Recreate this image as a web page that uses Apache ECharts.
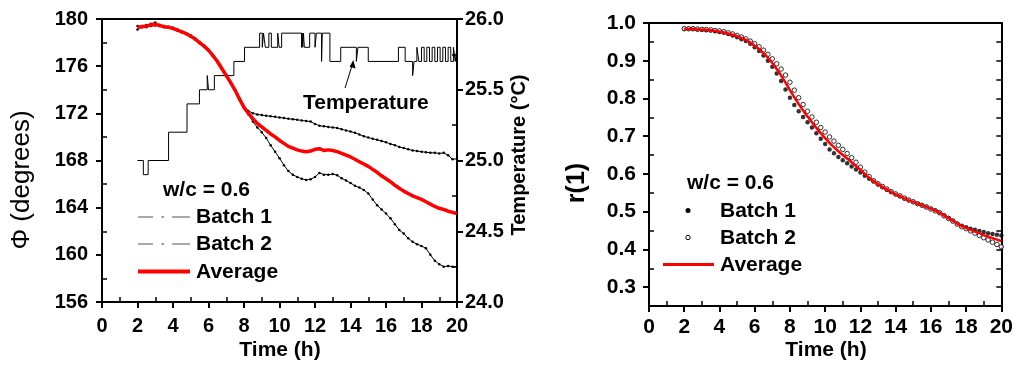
<!DOCTYPE html>
<html><head><meta charset="utf-8">
<script src="https://cdn.jsdelivr.net/npm/echarts@6/dist/echarts.min.js"></script>
<style>html,body{margin:0;padding:0;background:#fff}#c{width:1016px;height:367px}</style>
</head><body><div id="c"></div>
<script>
// ---------- DATA ----------
const times = [2,2.25,2.5,2.75,3,3.25,3.5,3.75,4,4.25,4.5,4.75,5,5.25,5.5,5.75,6,6.25,6.5,6.75,7,7.25,7.5,7.75,8,8.25,8.5,8.75,9,9.25,9.5,9.75,10,10.25,10.5,10.75,11,11.25,11.5,11.75,12,12.25,12.5,12.75,13,13.25,13.5,13.75,14,14.25,14.5,14.75,15,15.25,15.5,15.75,16,16.25,16.5,16.75,17,17.25,17.5,17.75,18,18.25,18.5,18.75,19,19.25,19.5,19.75,20];

const phiBatch1 = [179.1,179.4,179.3,179.6,179.7,179.4,179.4,179.25,179.25,179.0,178.95,178.7,178.6,178.25,178.05,177.65,177.4,176.85,176.45,175.75,175.25,174.55,174.0,173.15,172.55,
  172.2,172.0,171.9,171.85,171.8,171.75,171.7,171.65,171.6,171.55,171.5,171.45,171.4,171.35,171.3,171.1,170.95,170.9,170.85,170.8,170.75,170.65,170.55,170.45,170.35,170.2,170.05,169.95,169.85,169.75,169.65,169.55,169.4,169.3,169.15,169.05,168.95,168.85,168.8,168.75,168.7,168.65,168.65,168.6,168.65,168.45,168.1,168.15];

const phiBatch2 = [179.4,179.3,179.5,179.4,179.45,179.5,179.3,179.35,179.15,179.1,178.85,178.8,178.5,178.35,177.95,177.75,177.3,176.95,176.35,175.85,175.15,174.65,173.9,173.25,172.45,
  171.9,171.3,170.8,170.4,169.9,169.3,168.75,168.2,167.6,167.1,166.8,166.6,166.45,166.35,166.4,166.6,166.95,166.8,166.8,166.85,166.75,166.5,166.3,166.1,165.85,165.7,165.5,165.2,164.7,164.2,163.85,163.5,163.1,162.6,162.1,161.8,161.4,161.1,160.9,160.75,160.55,160.0,159.5,159.2,159.0,159.05,159.0,159.0];

const phiAverage = [179.3,179.35,179.4,179.5,179.55,179.45,179.35,179.3,179.2,179.05,178.9,178.75,178.55,178.3,178.0,177.7,177.35,176.9,176.4,175.8,175.2,174.6,173.95,173.2,172.5,172.0,171.55,171.15,170.85,170.55,170.25,170.0,169.7,169.45,169.2,169.05,168.9,168.8,168.75,168.8,168.95,169.0,168.85,168.9,168.85,168.75,168.6,168.45,168.3,168.1,167.9,167.7,167.5,167.25,167.0,166.7,166.45,166.2,165.9,165.65,165.4,165.2,165.0,164.85,164.7,164.5,164.3,164.1,163.95,163.85,163.7,163.6,163.5];

const tempTime = [2.0,2.33,2.6,3.75,4.79,5.49,5.93,6.0,6.33,7.43,8.03,8.88,9.03,9.1,9.2,9.4,9.54,9.9,9.98,10.12,11.24,11.28,11.31,11.35,11.4,11.7,12.0,12.08,12.37,12.41,12.84,13.45,14.33,14.42,15.0,16.7,17.08,17.5,17.58,17.74,17.85,18.0,18.15,18.3,18.45,18.6,18.75,18.9,19.05,19.2,19.35,19.5,19.65,19.8,19.9,20.0];
const tempValue = [25.0,24.9,25.0,25.2,25.4,25.5,25.6,25.5,25.6,25.7,25.8,25.9,25.8,25.9,25.8,25.9,25.8,25.9,25.8,25.9,25.8,25.9,25.8,25.9,25.8,25.9,25.8,25.9,25.7,25.9,25.7,25.8,25.7,25.8,25.7,25.8,25.7,25.6,25.7,25.8,25.7,25.8,25.7,25.8,25.7,25.8,25.7,25.8,25.7,25.8,25.7,25.8,25.7,25.8,25.7,25.8];

const rBatch1 = [0.984,0.984,0.984,0.983,0.982,0.981,0.980,0.978,0.976,0.974,0.971,0.967,0.962,0.957,0.952,0.945,0.936,0.926,0.914,0.900,0.884,0.866,0.846,0.824,0.802,0.783,0.766,0.751,0.737,0.723,0.708,0.693,0.679,0.665,0.655,0.645,0.636,0.628,0.620,0.612,0.604,0.595,0.587,0.580,0.572,0.565,0.558,0.552,0.546,0.541,0.535,0.530,0.526,0.521,0.517,0.513,0.508,0.503,0.497,0.490,0.483,0.476,0.468,0.463,0.459,0.455,0.452,0.449,0.446,0.443,0.441,0.439,0.437];
const rBatch2 = [0.985,0.985,0.985,0.984,0.983,0.983,0.982,0.980,0.979,0.977,0.974,0.971,0.967,0.963,0.958,0.952,0.945,0.937,0.928,0.917,0.905,0.892,0.878,0.862,0.843,0.822,0.802,0.784,0.766,0.751,0.737,0.723,0.711,0.698,0.687,0.676,0.665,0.654,0.643,0.631,0.618,0.605,0.593,0.582,0.574,0.567,0.560,0.553,0.547,0.542,0.536,0.531,0.526,0.521,0.517,0.512,0.507,0.502,0.497,0.489,0.482,0.475,0.467,0.460,0.455,0.449,0.443,0.437,0.431,0.425,0.419,0.413,0.407];
const rAverage = [0.984,0.984,0.984,0.983,0.982,0.982,0.981,0.979,0.977,0.975,0.972,0.969,0.965,0.960,0.955,0.948,0.940,0.931,0.920,0.908,0.894,0.878,0.861,0.842,0.822,0.803,0.785,0.768,0.752,0.737,0.722,0.708,0.695,0.682,0.671,0.660,0.650,0.641,0.631,0.621,0.611,0.600,0.590,0.581,0.573,0.566,0.559,0.552,0.546,0.541,0.535,0.530,0.526,0.521,0.517,0.512,0.508,0.503,0.497,0.490,0.483,0.476,0.468,0.462,0.457,0.452,0.447,0.443,0.438,0.434,0.430,0.426,0.422];

const xMajorTicks = [0,2,4,6,8,10,12,14,16,18,20];
const xMinorTicks = [1,3,5,7,9,11,13,15,17,19];
const phiMajorTicks = [156,160,164,168,172,176,180];
const phiMinorTicks = [158,162,166,170,174,178];
const tempMajorTicks = [24,24.5,25,25.5,26];
const tempMinorTicks = [24.25,24.75,25.25,25.75];
const rMajorTicks = [0.3,0.4,0.5,0.6,0.7,0.8,0.9,1.0];
const rMinorTicks = [0.35,0.45,0.55,0.65,0.75,0.85,0.95];
const rRightTicks = [0.3,0.35,0.4,0.45,0.5,0.55,0.6,0.65,0.7,0.75,0.8,0.85,0.9,0.95];

// ---------- HELPERS ----------
const zip = (x, y) => x.map((v, i) => [v, y[i]]);
const FONT = 'Liberation Sans, Arial, sans-serif';
// axis that carries the line and the labels (no ticks)
function labelAxis(extra, labelSize, margin) {
  return Object.assign({
    type: 'value', splitLine: {show: false},
    axisLine: {show: true, onZero: false, lineStyle: {color: '#000', width: 2}},
    axisTick: {show: false},
    axisLabel: {color: '#000', fontFamily: FONT, fontWeight: 'bold', fontSize: labelSize, margin: margin}
  }, extra);
}
// axis that only draws ticks at given values
function tickAxis(extra, vals, inside, len, width, showLine) {
  return Object.assign({
    type: 'value', splitLine: {show: false},
    axisLine: {show: !!showLine, onZero: false, lineStyle: {color: '#000', width: 2}},
    axisTick: {show: true, inside: inside, length: len, customValues: vals, lineStyle: {color: '#000', width: width}},
    axisLabel: {show: false}
  }, extra);
}
function frameAxis(extra) {
  return Object.assign({
    type: 'value', splitLine: {show: false},
    axisLine: {show: true, onZero: false, lineStyle: {color: '#000', width: 2}},
    axisTick: {show: false}, axisLabel: {show: false}
  }, extra);
}
const txt = (x, y, text, size, weight, align, rot) => ({
  type: 'text', x: x, y: y, silent: true, rotation: rot || 0,
  style: {text: text, font: (weight || 'bold') + ' ' + size + 'px ' + FONT, fill: '#000', align: align || 'left', verticalAlign: 'middle'}
});
const seg = (x1, y1, x2, y2, color, w) => ({type: 'line', silent: true,
  shape: {x1: x1, y1: y1, x2: x2, y2: y2}, style: {stroke: color, lineWidth: w}});

// ---------- CHART ----------
const chart = echarts.init(document.getElementById('c'));
const X0 = {min: 0, max: 20};
const option = {
  animation: false,
  backgroundColor: '#fff',
  grid: [
    {left: 102, top: 19, width: 355, height: 283},
    {left: 649, top: 23, width: 353, height: 283}
  ],
  xAxis: [
    labelAxis(Object.assign({gridIndex: 0, position: 'bottom', interval: 2}, X0), 20, 14),       // 0
    tickAxis(Object.assign({gridIndex: 0, position: 'bottom'}, X0), xMajorTicks, false, 6, 2),   // 1
    tickAxis(Object.assign({gridIndex: 0, position: 'bottom'}, X0), xMinorTicks, true, 5, 1.5),  // 2
    frameAxis(Object.assign({gridIndex: 0, position: 'top'}, X0)),                               // 3
    labelAxis(Object.assign({gridIndex: 1, position: 'bottom', interval: 2}, X0), 21, 11),       // 4
    tickAxis(Object.assign({gridIndex: 1, position: 'bottom'}, X0), xMajorTicks, false, 6, 2),   // 5
    tickAxis(Object.assign({gridIndex: 1, position: 'bottom'}, X0), xMinorTicks, true, 5, 1.5),  // 6
    frameAxis(Object.assign({gridIndex: 1, position: 'top'}, X0))                                // 7
  ],
  yAxis: [
    labelAxis({gridIndex: 0, position: 'left', min: 156, max: 180, interval: 4}, 20, 14),        // 0
    tickAxis({gridIndex: 0, position: 'left', min: 156, max: 180}, phiMajorTicks, false, 6, 2),  // 1
    tickAxis({gridIndex: 0, position: 'left', min: 156, max: 180}, phiMinorTicks, true, 5, 1.5), // 2
    labelAxis({gridIndex: 0, position: 'right', min: 24, max: 26, interval: 0.5}, 20, 8),        // 3
    tickAxis({gridIndex: 0, position: 'right', min: 24, max: 26}, tempMajorTicks, false, 6, 2),  // 4
    tickAxis({gridIndex: 0, position: 'right', min: 24, max: 26}, tempMinorTicks, true, 5, 1.5), // 5
    labelAxis({gridIndex: 1, position: 'left', min: 0.25, max: 1.0, interval: 0.05}, 21, 13),    // 6
    tickAxis({gridIndex: 1, position: 'left', min: 0.25, max: 1.0}, rMajorTicks, false, 6, 2),   // 7
    tickAxis({gridIndex: 1, position: 'left', min: 0.25, max: 1.0}, rMinorTicks, true, 5, 1.5),  // 8
    tickAxis({gridIndex: 1, position: 'right', min: 0.25, max: 1.0}, rRightTicks, true, 5, 1.5, true) // 9
  ],
  series: [
    {type: 'line', name: 'Temperature', xAxisIndex: 0, yAxisIndex: 3, step: 'end', data: zip(tempTime, tempValue),
      showSymbol: false, symbol: 'none', lineStyle: {color: '#000', width: 1}, z: 2},
    {type: 'line', name: 'Batch 1', xAxisIndex: 0, yAxisIndex: 0, data: zip(times, phiBatch1),
      symbol: 'circle', symbolSize: 2.5, itemStyle: {color: '#000'}, lineStyle: {color: '#000', width: 1}, z: 3},
    {type: 'line', name: 'Batch 2', xAxisIndex: 0, yAxisIndex: 0, data: zip(times, phiBatch2),
      symbol: 'circle', symbolSize: 2.5, itemStyle: {color: '#000'}, lineStyle: {color: '#000', width: 1}, z: 3},
    {type: 'line', name: 'Average', xAxisIndex: 0, yAxisIndex: 0, data: zip(times, phiAverage),
      symbol: 'none', lineStyle: {color: '#ff0000', width: 3.5}, z: 4},
    {type: 'scatter', name: 'r Batch 1', xAxisIndex: 4, yAxisIndex: 6, data: zip(times, rBatch1),
      symbol: 'circle', symbolSize: 4.5, itemStyle: {color: '#000'}, z: 3},
    {type: 'scatter', name: 'r Batch 2', xAxisIndex: 4, yAxisIndex: 6, data: zip(times, rBatch2),
      symbol: 'circle', symbolSize: 4.5, itemStyle: {color: '#fff', borderColor: '#000', borderWidth: 1}, z: 3},
    {type: 'line', name: 'r Average', xAxisIndex: 4, yAxisIndex: 6, data: zip(times, rAverage),
      symbol: 'none', smooth: 0.3, lineStyle: {color: '#ff0000', width: 2.5}, z: 4}
  ],
  graphic: [
    txt(22, 180, 'Φ (degrees)', 26, 'normal', 'center', Math.PI / 2),
    txt(519, 155, 'Temperature (°C)', 20, 'bold', 'center', Math.PI / 2),
    txt(577, 183, 'r(1)', 25, 'bold', 'center', Math.PI / 2),
    txt(280, 350, 'Time (h)', 21, 'bold', 'center'),
    txt(826, 350, 'Time (h)', 21, 'bold', 'center'),
    txt(303, 103, 'Temperature', 21),
    seg(345, 88, 352.5, 64, '#000', 1),
    {type: 'polygon', silent: true, shape: {points: [[353.3, 60], [355.6, 68.5], [349.6, 66.8]]}, style: {fill: '#000'}},
    txt(163, 190, 'w/c = 0.6', 21),
    seg(138, 217, 153, 217, '#555', 1), seg(161.5, 217, 164, 217, '#555', 1.2), seg(172, 217, 190, 217, '#555', 1),
    txt(196, 217, 'Batch 1', 21),
    seg(138, 244, 153, 244, '#555', 1), seg(161.5, 244, 164, 244, '#555', 1.2), seg(172, 244, 190, 244, '#555', 1),
    txt(196, 244, 'Batch 2', 21),
    seg(138, 271.5, 190, 271.5, '#ff0000', 4),
    txt(196, 272, 'Average', 21),
    txt(687, 183.5, 'w/c = 0.6', 21),
    {type: 'circle', silent: true, shape: {cx: 688, cy: 210.5, r: 2.5}, style: {fill: '#000'}},
    txt(720, 211, 'Batch 1', 21),
    {type: 'circle', silent: true, shape: {cx: 688, cy: 237.5, r: 2.2}, style: {fill: '#fff', stroke: '#000', lineWidth: 1}},
    txt(720, 238, 'Batch 2', 21),
    seg(663, 264.5, 714, 264.5, '#ff0000', 3),
    txt(720, 265, 'Average', 21)
  ]
};
option.yAxis[3].axisLabel.formatter = v => v.toFixed(1);
option.yAxis[6].axisLabel.formatter = v => v.toFixed(1);
option.yAxis[6].axisLabel.customValues = rMajorTicks;
chart.setOption(option);
</script>
</body></html>
